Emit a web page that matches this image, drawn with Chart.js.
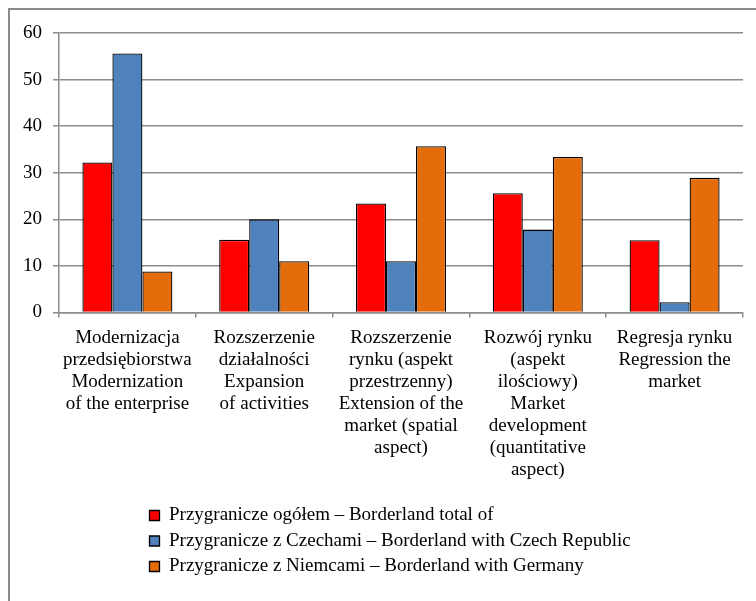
<!DOCTYPE html>
<html>
<head>
<meta charset="utf-8">
<script src="https://cdn.jsdelivr.net/npm/chart.js@4.4.1/dist/chart.umd.min.js"></script>
<style>
    html, body { margin: 0; padding: 0; background: #fff; overflow: hidden; }
    #frame {
        position: absolute; left: 8px; top: 8px;
        width: 800px; height: 650px;
        border: 2px solid #8a8a8a;
    }
    #chart { position: absolute; left: 0; top: 0; }
</style>
</head>
<body>
<div id="frame"></div>
<canvas id="chart" width="756" height="601"></canvas>
<script>
// Kategorie (etykiety osi X, wiele linii)
const categories = [
    ['Modernizacja', 'przedsiębiorstwa', 'Modernization', 'of the enterprise'],
    ['Rozszerzenie', 'działalności', 'Expansion', 'of activities'],
    ['Rozszerzenie', 'rynku (aspekt', 'przestrzenny)', 'Extension of the', 'market (spatial', 'aspect)'],
    ['Rozwój rynku', '(aspekt', 'ilościowy)', 'Market', 'development', '(quantitative', 'aspect)'],
    ['Regresja rynku', 'Regression the', 'market']
];

// Nazwy serii
const seriesNames = [
    'Przygranicze ogółem – Borderland total of',
    'Przygranicze z Czechami – Borderland with Czech Republic',
    'Przygranicze z Niemcami – Borderland with Germany'
];

// Wartości serii
const totalValues = [32.2, 15.6, 23.4, 25.6, 15.5];
const czechValues = [55.6, 20.0, 11.0, 17.8, 2.2];
const germanyValues = [8.8, 11.0, 35.7, 33.4, 28.9];

const seriesColors = ['#ff0000', '#4f81bd', '#e46c0a'];

const yMin = 0;
const yMax = 60;
const yStep = 10;

const axisGray = '#8c8c8c';
const serif = 'Liberation Serif, Times New Roman, serif';

// Przesuwa legendę w prawo, żeby zaczynała się pod wykresem
const legendOffset = {
    id: 'legendOffset',
    afterLayout(chart) {
        chart.legend.left = 143;
    }
};

window.onload = function() {
    const ctx = document.getElementById('chart').getContext('2d');
    const values = [totalValues, czechValues, germanyValues];

    new Chart(ctx, {
        type: 'bar',
        data: {
            labels: categories,
            datasets: values.map((v, i) => ({
                label: seriesNames[i],
                data: v,
                backgroundColor: seriesColors[i],
                borderColor: '#000',
                borderWidth: 1.3,
                categoryPercentage: 0.658,
                barPercentage: 1.0
            }))
        },
        plugins: [legendOffset],
        options: {
            responsive: false,
            animation: false,
            layout: {
                padding: { left: 0, top: 33, right: 13, bottom: 15 }
            },
            scales: {
                x: {
                    afterFit: function(scale) { scale.height = 187; },
                    grid: {
                        drawOnChartArea: false,
                        drawTicks: true,
                        tickLength: 5,
                        color: axisGray,
                        lineWidth: 1.5
                    },
                    border: { color: axisGray, width: 1.5 },
                    ticks: {
                        color: '#000',
                        padding: 10,
                        maxRotation: 0,
                        autoSkip: false,
                        font: { family: serif, size: 19, lineHeight: 1.15 }
                    }
                },
                y: {
                    min: yMin,
                    max: yMax,
                    afterFit: function(scale) { scale.width = 59; },
                    grid: {
                        color: axisGray,
                        lineWidth: 1.5,
                        tickLength: 6
                    },
                    border: { color: axisGray, width: 1.5 },
                    ticks: {
                        stepSize: yStep,
                        color: '#000',
                        padding: 11,
                        font: { family: serif, size: 19 }
                    }
                }
            },
            plugins: {
                legend: {
                    position: 'bottom',
                    align: 'start',
                    labels: {
                        boxWidth: 10,
                        boxHeight: 10,
                        padding: 6.5,
                        color: '#000',
                        font: { family: serif, size: 19 }
                    }
                },
                tooltip: { enabled: true }
            }
        }
    });
};
</script>
</body>
</html>
